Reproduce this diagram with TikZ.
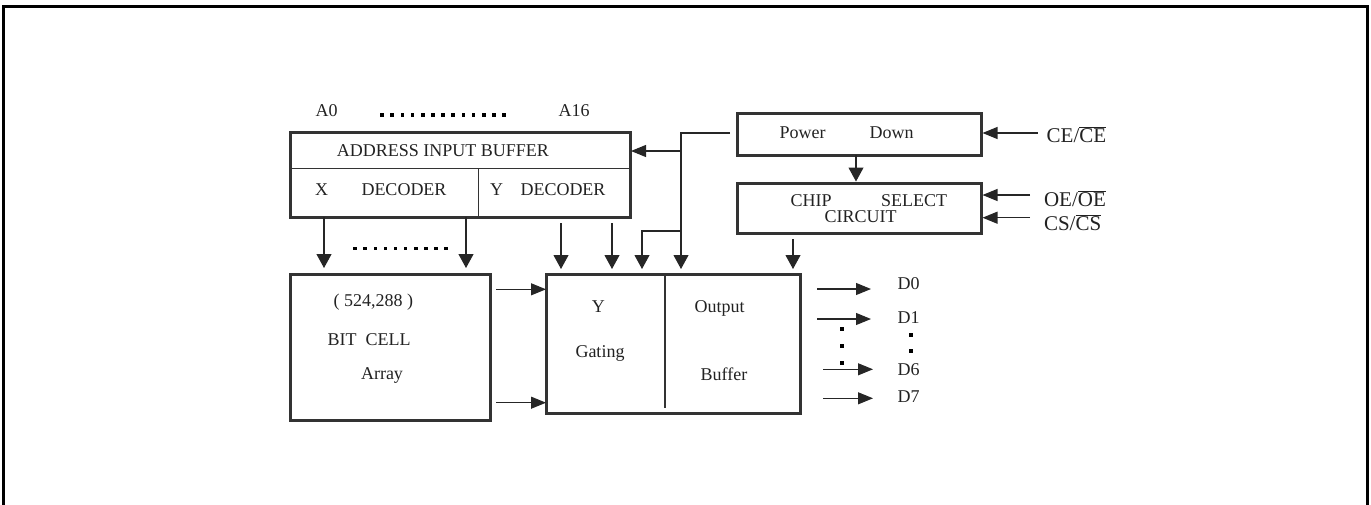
\documentclass[tikz,border=0pt]{standalone}
\usepackage{fontspec}
\setmainfont{Liberation Serif}
\usetikzlibrary{arrows.meta}
\definecolor{boxgray}{HTML}{333333}
\definecolor{txt}{HTML}{222222}
\begin{document}
\begin{tikzpicture}[x=1pt,y=-1pt,
  box/.style={draw=boxgray, line width=3pt, inner sep=0pt, outer sep=0pt},
  conn/.style={line width=1.1pt, draw=black!85},
  arr/.style={conn, -{Triangle[length=15pt,width=12pt]}},
  varr/.style={conn, -{Triangle[length=14pt,width=15pt]}},
  lbl/.style={anchor=base, inner sep=0pt, outer sep=0pt, text=txt, font=\fontsize{18}{20}\selectfont},
  sig/.style={anchor=base west, inner sep=0pt, outer sep=0pt, text=txt, font=\fontsize{21}{23}\selectfont},
  dotsq/.style={fill=black}]
\useasboundingbox (0,0) rectangle (1371,504);
% outer frame
\draw[line width=3pt] (3,510) -- (3,6.5) -- (1367,6.5) -- (1367,510);

% boxes
\node[box, minimum width=340pt, minimum height=85pt] (addr) at (460,174.5) {};
\node[box, minimum width=244pt, minimum height=42pt] (power) at (859,134) {};
\node[box, minimum width=244pt, minimum height=50pt] (chip) at (859,208) {};
\node[box, minimum width=200pt, minimum height=146pt] (bit) at (390,347) {};
\node[box, minimum width=254pt, minimum height=139pt] (gate) at (673,343.5) {};

% dividers
\coordinate (ad) at (478,168);
\draw[line width=1pt, boxgray] (addr.west |- ad) -- (addr.east |- ad);
\draw[line width=1pt, boxgray] (ad) -- (addr.south -| ad);
\coordinate (gd) at (665,408);
\draw[line width=2.5pt, boxgray] (gate.north -| gd) -- (gd);

% texts
\node[lbl] (ta0) at (326.7,116) {A0};
\node[lbl] (ta16) at (574,116) {A16};
\node[lbl] (taib) at (443,156) {ADDRESS INPUT BUFFER};
\node[lbl] (tx) at (321.7,195) {X};
\node[lbl] (txd) at (404,195) {DECODER};
\node[lbl] (ty) at (496.7,195) {Y};
\node[lbl] (tyd) at (563,195) {DECODER};
\node[lbl] (tpow) at (802.7,138) {Power};
\node[lbl] (tdown) at (891.5,138) {Down};
\node[lbl] (tchip) at (811,206) {CHIP};
\node[lbl] (tsel) at (914,206) {SELECT};
\node[lbl] (tcirc) at (860.5,222) {CIRCUIT};
\node[lbl] (tnum) at (373.3,306.7) {( 524,288 )};
\node[lbl] (tbit) at (369,345.7) {BIT\ \ CELL};
\node[lbl] (tarr) at (382,379.3) {Array};
\node[lbl] (tyy) at (598.3,312.7) {Y};
\node[lbl] (tgat) at (600,357.3) {Gating};
\node[lbl] (tout) at (719.5,312.7) {Output};
\node[lbl] (tbuf) at (724,380) {Buffer};
\node[lbl, anchor=base west] (d0) at (897.7,289.3) {D0};
\node[lbl, anchor=base west] (d1) at (897.7,323.3) {D1};
\node[lbl, anchor=base west] (d6) at (897.7,375) {D6};
\node[lbl, anchor=base west] (d7) at (897.7,402.7) {D7};
\node[sig] (ce) at (1046.7,142.7) {CE/$\overline{\mbox{CE}}$};
\node[sig] (oe) at (1044,206) {OE/$\overline{\mbox{OE}}$};
\node[sig] (cs) at (1044,230) {CS/$\overline{\mbox{CS}}$};

% dot rows
\foreach \i in {0,...,12} \fill[dotsq] (380.3+\i*10.17,113.3) rectangle ++(3.6,3.6);
\foreach \i in {0,...,9} \fill[dotsq] (353.3+\i*10.1,246.5) rectangle ++(3.6,3.6);
\foreach \yy in {329,346,362.7} \fill[dotsq] (840,\yy-1.8) rectangle ++(3.6,3.6);
\foreach \yy in {335,350.7} \fill[dotsq] (909.3,\yy-1.8) rectangle ++(3.6,3.6);

% arrows address -> bit cell
\coordinate (c1) at (324,0);
\coordinate (c2) at (466,0);
\draw[varr, shorten >=6pt] (addr.south -| c1) -- (bit.north -| c1);
\draw[varr, shorten >=6pt] (addr.south -| c2) -- (bit.north -| c2);
% Y decoder -> gating
\coordinate (c3) at (561,0);
\coordinate (c4) at (612,0);
\draw[varr, shorten <=6pt, shorten >=5pt] (addr.south -| c3) -- (gate.north -| c3);
\draw[varr, shorten <=6pt, shorten >=5pt] (addr.south -| c4) -- (gate.north -| c4);
% bit cell -> gating
\coordinate (r1) at (0,289.3);
\coordinate (r2) at (0,402.7);
\draw[arr, shorten <=6pt] (bit.east |- r1) -- (gate.west |- r1);
\draw[arr, shorten <=6pt] (bit.east |- r2) -- (gate.west |- r2);

% power down distribution
\coordinate (p0) at (730,133);
\coordinate (p1) at (681,133);
\coordinate (p2) at (681,151);
\coordinate (p3) at (681,231);
\coordinate (p4) at (642,231);
\draw[varr, shorten >=5pt] (p0) -- (p1) -- (gate.north -| p1);
\draw[arr, shorten >=1pt] (p2) -- (addr.east |- p2);
\draw[varr, shorten >=5pt] (p3) -- (p4) -- (gate.north -| p4);
% power -> chip
\coordinate (c5) at (856,0);
\draw[varr, shorten >=1.5pt] (power.south -| c5) -- (chip.north -| c5);
% chip -> gate
\coordinate (c6) at (793,0);
\draw[varr, shorten <=6pt, shorten >=5pt] (chip.south -| c6) -- (gate.north -| c6);

% control inputs
\coordinate (ceI) at (1037.7,133);
\coordinate (oeI) at (1030,195);
\coordinate (csI) at (1030,217.7);
\draw[arr, shorten >=1.5pt] (ceI) -- (power.east |- ceI);
\draw[arr, shorten >=1.5pt] (oeI) -- (chip.east |- oeI);
\draw[arr, shorten >=1.5pt] (csI) -- (chip.east |- csI);

% outputs
\coordinate (o0a) at (817,289); \coordinate (o0b) at (871,289);
\coordinate (o1a) at (817,319); \coordinate (o1b) at (871,319);
\coordinate (o6a) at (823,369.3); \coordinate (o6b) at (873,369.3);
\coordinate (o7a) at (823,398.3); \coordinate (o7b) at (873,398.3);
\draw[arr] (o0a) -- (o0b);
\draw[arr] (o1a) -- (o1b);
\draw[arr] (o6a) -- (o6b);
\draw[arr] (o7a) -- (o7b);
\end{tikzpicture}
\end{document}
